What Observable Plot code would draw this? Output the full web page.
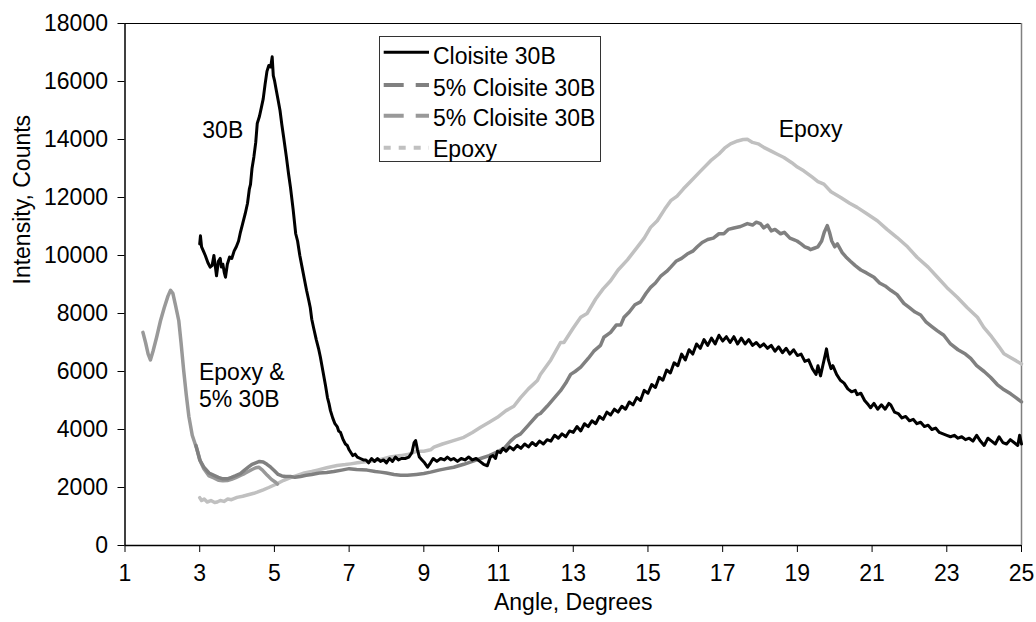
<!DOCTYPE html>
<html><head><meta charset="utf-8">
<script src="https://cdn.jsdelivr.net/npm/d3@7"></script>
<script src="https://cdn.jsdelivr.net/npm/@observablehq/plot@0.6"></script>
<style>
body{margin:0;background:#fff;font-family:"Liberation Sans",Arial,sans-serif;}
#wrap{position:relative;width:1036px;height:622px;}
#legend{position:absolute;left:379px;top:36px;width:222px;height:126px;border:1px solid #333;background:#fff;box-sizing:border-box;}
#legend svg{position:absolute;left:-1px;top:-1px;}
</style></head><body><div id="wrap"></div>
<script>
// ---- data (angle in degrees, intensity in counts) ----
const cloisite30B = [[3.00,10400],[3.02,10680],[3.05,10300],[3.10,10150],[3.15,10000],[3.22,9750],[3.28,9600],[3.33,9650],[3.38,10000],[3.42,9600],[3.45,9300],[3.50,9800],[3.55,9900],[3.58,9600],[3.62,9700],[3.66,9400],[3.69,9250],[3.74,9700],[3.80,9950],[3.86,9900],[3.92,10150],[3.98,10300],[4.04,10500],[4.09,10800],[4.15,11100],[4.22,11450],[4.28,11800],[4.33,12300],[4.36,12450],[4.40,13000],[4.45,13400],[4.50,13900],[4.54,14550],[4.60,14800],[4.65,15100],[4.70,15400],[4.75,15900],[4.80,16350],[4.85,16550],[4.90,16500],[4.94,16850],[4.97,16200],[5.00,16050],[5.05,15700],[5.10,15350],[5.15,15000],[5.20,14500],[5.25,14050],[5.32,13400],[5.38,12800],[5.43,12350],[5.50,11600],[5.57,10750],[5.62,10500],[5.68,10000],[5.74,9600],[5.80,9200],[5.86,8800],[5.92,8450],[5.96,8200],[6.00,7800],[6.05,7500],[6.12,7100],[6.18,6800],[6.23,6500],[6.30,6000],[6.37,5500],[6.42,5100],[6.46,4900],[6.50,4650],[6.56,4400],[6.62,4200],[6.68,4100],[6.72,3950],[6.77,3900],[6.84,3650],[6.90,3500],[6.95,3450],[7.00,3300],[7.05,3200],[7.10,3100],[7.16,3150],[7.22,3050],[7.30,3000],[7.38,2950],[7.45,2950],[7.52,2850],[7.60,3000],[7.68,2900],[7.76,3000],[7.84,2900],[7.92,2950],[8.00,2850],[8.08,3000],[8.16,2900],[8.24,3050],[8.32,2950],[8.40,3000],[8.50,3000],[8.60,3050],[8.68,3200],[8.74,3550],[8.78,3620],[8.83,3300],[8.88,3050],[8.95,2950],[9.02,2850],[9.10,2700],[9.18,2850],[9.25,3000],[9.35,2900],[9.45,3000],[9.55,2950],[9.63,3050],[9.72,2950],[9.80,3000],[9.90,2900],[10.00,3000],[10.10,2950],[10.20,3050],[10.30,2950],[10.40,3000],[10.50,2900],[10.60,2800],[10.70,2750],[10.78,3050],[10.85,3100],[10.92,3000],[10.97,3250],[11.05,3200],[11.12,3350],[11.20,3250],[11.30,3400],[11.40,3300],[11.50,3450],[11.60,3350],[11.70,3500],[11.80,3400],[11.90,3550],[12.00,3450],[12.10,3600],[12.20,3500],[12.30,3650],[12.40,3600],[12.50,3800],[12.60,3700],[12.70,3850],[12.80,3750],[12.90,3950],[13.00,3900],[13.10,4100],[13.20,3950],[13.30,4200],[13.40,4100],[13.50,4300],[13.60,4200],[13.70,4450],[13.80,4350],[13.90,4600],[14.00,4500],[14.10,4700],[14.20,4600],[14.30,4800],[14.40,4700],[14.50,4950],[14.60,4850],[14.70,5100],[14.80,5000],[14.90,5350],[15.00,5250],[15.10,5550],[15.20,5450],[15.30,5800],[15.40,5700],[15.50,6050],[15.60,5950],[15.70,6300],[15.80,6200],[15.90,6600],[16.00,6400],[16.10,6750],[16.20,6600],[16.30,6950],[16.40,6800],[16.50,7100],[16.60,6900],[16.70,7150],[16.80,6950],[16.90,7250],[17.00,7050],[17.10,7200],[17.20,7000],[17.30,7200],[17.40,6950],[17.50,7150],[17.60,6950],[17.70,7100],[17.80,6900],[17.90,7000],[18.00,6850],[18.10,6950],[18.20,6800],[18.30,6900],[18.40,6700],[18.50,6850],[18.60,6650],[18.70,6800],[18.80,6600],[18.90,6750],[19.00,6550],[19.10,6600],[19.20,6350],[19.30,6400],[19.40,6100],[19.50,5900],[19.55,6200],[19.62,5850],[19.68,6200],[19.75,6600],[19.78,6780],[19.83,6400],[19.90,6100],[19.95,6200],[20.05,5900],[20.15,5700],[20.25,5600],[20.35,5400],[20.45,5300],[20.55,5350],[20.60,5200],[20.70,5250],[20.80,5000],[20.90,4850],[20.96,4750],[21.05,4900],[21.15,4700],[21.25,4850],[21.35,4700],[21.45,4900],[21.50,4850],[21.60,4600],[21.70,4550],[21.80,4400],[21.90,4450],[22.00,4300],[22.10,4350],[22.20,4200],[22.30,4250],[22.40,4100],[22.50,4150],[22.60,4000],[22.70,4050],[22.80,3900],[22.90,3850],[23.00,3800],[23.10,3750],[23.20,3800],[23.30,3700],[23.40,3750],[23.50,3650],[23.60,3700],[23.70,3600],[23.80,3800],[23.90,3600],[24.00,3450],[24.10,3700],[24.20,3600],[24.30,3500],[24.40,3750],[24.50,3550],[24.60,3500],[24.70,3650],[24.80,3550],[24.90,3450],[24.95,3800],[25.00,3500]];

const fivePctA = [[2.90,3450],[3.00,2950],[3.11,2700],[3.25,2500],[3.38,2420],[3.50,2350],[3.62,2300],[3.74,2300],[3.85,2350],[3.95,2400],[4.09,2480],[4.20,2600],[4.30,2700],[4.40,2800],[4.50,2850],[4.60,2900],[4.70,2880],[4.80,2800],[4.90,2700],[5.00,2580],[5.10,2450],[5.20,2400],[5.30,2380],[5.43,2380],[5.55,2350],[5.70,2380],[5.85,2420],[6.00,2450],[6.20,2500],[6.40,2520],[6.59,2550],[6.80,2600],[7.00,2650],[7.20,2620],[7.48,2600],[7.70,2550],[7.84,2530],[8.00,2500],[8.20,2450],[8.38,2420],[8.56,2420],[8.80,2450],[9.00,2480],[9.18,2530],[9.40,2600],[9.60,2650],[9.80,2700],[10.07,2800],[10.30,2900],[10.52,3000],[10.75,3100],[10.97,3230],[11.15,3350],[11.32,3600],[11.45,3750],[11.59,3850],[11.80,4150],[12.04,4500],[12.12,4550],[12.30,4800],[12.50,5100],[12.66,5340],[12.80,5600],[12.93,5900],[13.05,6000],[13.20,6150],[13.40,6450],[13.55,6700],[13.73,6900],[13.82,7180],[14.00,7350],[14.15,7600],[14.27,7600],[14.36,7870],[14.50,8050],[14.65,8300],[14.80,8400],[14.95,8700],[15.07,8900],[15.20,9050],[15.35,9300],[15.50,9450],[15.61,9600],[15.75,9800],[15.90,9900],[16.05,10050],[16.20,10150],[16.32,10300],[16.45,10450],[16.60,10550],[16.75,10600],[16.90,10750],[17.03,10750],[17.15,10900],[17.30,10950],[17.48,11000],[17.66,11100],[17.80,11050],[17.90,11150],[18.01,11100],[18.10,10950],[18.20,11050],[18.30,10850],[18.40,10900],[18.55,10750],[18.65,10800],[18.80,10600],[18.90,10550],[18.99,10500],[19.10,10400],[19.20,10300],[19.30,10250],[19.35,10200],[19.45,10250],[19.55,10300],[19.65,10500],[19.72,10800],[19.80,11030],[19.86,10800],[19.92,10500],[20.00,10300],[20.07,10400],[20.20,10100],[20.30,9950],[20.42,9800],[20.55,9650],[20.70,9500],[20.85,9400],[21.05,9250],[21.20,9050],[21.35,8950],[21.50,8800],[21.67,8650],[21.85,8350],[22.00,8200],[22.15,8050],[22.30,7950],[22.45,7700],[22.60,7550],[22.75,7400],[22.92,7250],[23.10,6950],[23.30,6750],[23.50,6600],[23.64,6450],[23.80,6200],[24.00,6000],[24.17,5800],[24.35,5550],[24.50,5400],[24.71,5230],[24.85,5100],[25.00,4950]];

const fivePctB = [[1.48,7350],[1.55,7000],[1.62,6600],[1.68,6400],[1.75,6700],[1.85,7200],[1.95,7750],[2.05,8200],[2.15,8600],[2.22,8800],[2.28,8700],[2.35,8300],[2.44,7750],[2.50,7000],[2.57,6050],[2.64,5200],[2.71,4450],[2.80,3800],[2.93,3300],[3.02,2900],[3.11,2650],[3.25,2400],[3.38,2330],[3.50,2250],[3.62,2230],[3.74,2240],[3.85,2280],[3.95,2330],[4.09,2420],[4.20,2480],[4.30,2550],[4.40,2620],[4.50,2680],[4.58,2700],[4.68,2600],[4.81,2420],[4.92,2280],[5.03,2180],[5.08,2120]];

const epoxy = [[3.00,1650],[3.05,1550],[3.12,1600],[3.20,1500],[3.30,1550],[3.40,1480],[3.47,1500],[3.55,1550],[3.65,1520],[3.75,1600],[3.85,1580],[4.00,1660],[4.15,1700],[4.30,1750],[4.45,1800],[4.54,1840],[4.70,1920],[4.85,2000],[5.07,2130],[5.25,2250],[5.45,2350],[5.61,2420],[5.80,2500],[6.00,2550],[6.15,2600],[6.40,2680],[6.68,2760],[6.90,2790],[7.04,2815],[7.22,2850],[7.50,2900],[7.80,2950],[8.10,3050],[8.38,3100],[8.60,3150],[8.80,3250],[9.00,3250],[9.18,3300],[9.27,3390],[9.50,3500],[9.75,3600],[10.07,3730],[10.30,3900],[10.52,4080],[10.75,4250],[10.97,4420],[11.20,4650],[11.41,4800],[11.59,5100],[11.80,5400],[12.04,5690],[12.12,5900],[12.40,6400],[12.66,7000],[12.75,7000],[13.00,7500],[13.20,7870],[13.37,8000],[13.60,8500],[13.80,8850],[14.00,9130],[14.20,9500],[14.45,9850],[14.71,10280],[14.90,10600],[15.07,10970],[15.25,11200],[15.45,11600],[15.61,11890],[15.78,12050],[15.95,12300],[16.14,12550],[16.40,12900],[16.68,13270],[16.90,13500],[17.05,13700],[17.21,13850],[17.40,13950],[17.55,14000],[17.66,14010],[17.80,13900],[17.95,13850],[18.10,13730],[18.30,13600],[18.45,13500],[18.64,13380],[18.85,13200],[19.00,13050],[19.17,12920],[19.40,12700],[19.55,12550],[19.71,12460],[19.90,12200],[20.16,12000],[20.40,11800],[20.60,11660],[20.85,11450],[21.14,11200],[21.40,10900],[21.67,10620],[21.95,10300],[22.21,9930],[22.50,9600],[22.75,9250],[23.00,8900],[23.28,8560],[23.55,8200],[23.82,7870],[23.99,7520],[24.20,7200],[24.40,6850],[24.53,6610],[24.75,6450],[25.00,6260]];

const seriesNames = ["Cloisite 30B", "5% Cloisite 30B", "5% Cloisite 30B", "Epoxy"];
const xTicks = [1,3,5,7,9,11,13,15,17,19,21,23,25];
const yTicks = [0,2000,4000,6000,8000,10000,12000,14000,16000,18000];
const annotations = [
  {x: 3.07, y: 14335, text: "30B"},
  {x: 2.98, y: 5550, text: "Epoxy &\n5% 30B"},
  {x: 18.5, y: 14390, text: "Epoxy"}
];
const xLabel = "Angle, Degrees";
const yLabel = "Intensity, Counts";

// ---- styles ----
const styles = [
  {color: "#000000", width: 3, legendDash: null},
  {color: "#808080", width: 3.5, legendDash: "20,12"},
  {color: "#999999", width: 3.5, legendDash: "20,12"},
  {color: "#c0c0c0", width: 3.5, legendDash: "7,8"}
];
const seriesData = [cloisite30B, fivePctA, fivePctB, epoxy];
const toRows = arr => arr.map(([x, y]) => ({x, y}));

const drawOrder = [3, 2, 1, 0];
const lineMarks = drawOrder.map(i => Plot.line(toRows(seriesData[i]), {
  x: "x", y: "y", stroke: styles[i].color, strokeWidth: styles[i].width,
  strokeLinejoin: "round", strokeLinecap: "round"
}));

const FS = 23;
const font = '"Liberation Sans", Arial, sans-serif';
const chart = Plot.plot({
  width: 1036, height: 622,
  marginLeft: 124.5, marginRight: 15, marginTop: 23, marginBottom: 77,
  style: {fontFamily: font, fontSize: FS + "px", color: "#000", background: "#fff"},
  x: {domain: [1, 25]},
  y: {domain: [0, 18000]},
  marks: [
    Plot.ruleY([18000], {stroke: "#000", strokeWidth: 1.2}),
    Plot.ruleX([25], {stroke: "#808080", strokeWidth: 1.5}),
    ...lineMarks,
    Plot.ruleY([0], {stroke: "#000", strokeWidth: 1.5}),
    Plot.ruleX([1], {stroke: "#000", strokeWidth: 1.5}),
    Plot.axisY({ticks: yTicks, tickSize: 7, tickPadding: 10, tickFormat: d => String(d), label: null, fontSize: FS, stroke: "#000"}),
    Plot.axisX({ticks: xTicks, tickSize: 7, tickPadding: 12, tickFormat: d => String(d), label: null, fontSize: FS, stroke: "#000"}),
    Plot.text(annotations, {x: "x", y: "y", text: "text", textAnchor: "start", lineAnchor: "middle", lineHeight: 1.18, fontSize: FS, fill: "#000"}),
    Plot.text([xLabel], {frameAnchor: "bottom", dy: 64, fontSize: FS, fill: "#000"}),
    Plot.text([yLabel], {frameAnchor: "left", rotate: -90, dx: -102, fontSize: FS, fill: "#000"})
  ]
});
const wrap = document.getElementById("wrap");
wrap.appendChild(chart);

// ---- legend ----
const legend = document.createElement("div");
legend.id = "legend";
const ns = "http://www.w3.org/2000/svg";
const lsvg = document.createElementNS(ns, "svg");
lsvg.setAttribute("width", 222); lsvg.setAttribute("height", 126);
const lineYs = [16.3, 49, 79.7, 111.7];
const textYs = [27.5, 59.8, 90.3, 121];
seriesNames.forEach((name, i) => {
  const ln = document.createElementNS(ns, "line");
  ln.setAttribute("x1", 4.7); ln.setAttribute("x2", 50);
  ln.setAttribute("y1", lineYs[i]); ln.setAttribute("y2", lineYs[i]);
  ln.setAttribute("stroke", styles[i].color);
  ln.setAttribute("stroke-width", i === 0 ? 3 : 4);
  if (styles[i].legendDash) ln.setAttribute("stroke-dasharray", styles[i].legendDash);
  lsvg.appendChild(ln);
  const t = document.createElementNS(ns, "text");
  t.setAttribute("x", 54); t.setAttribute("y", textYs[i]);
  t.setAttribute("font-family", font); t.setAttribute("font-size", FS);
  t.setAttribute("fill", "#000");
  t.textContent = name;
  lsvg.appendChild(t);
});
legend.appendChild(lsvg);
wrap.appendChild(legend);
</script>
</body></html>
